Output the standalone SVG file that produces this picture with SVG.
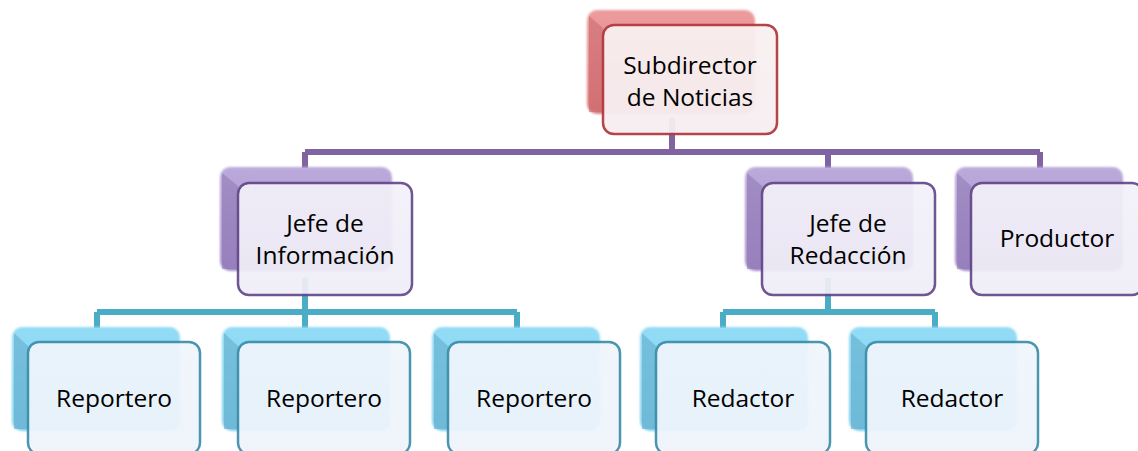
<svg xmlns="http://www.w3.org/2000/svg" width="1138" height="451" viewBox="0 0 1138 451">
<defs>
<linearGradient id="gRed" x1="0" y1="0" x2="0" y2="1"><stop offset="0" stop-color="#ec9c9d"/><stop offset="1" stop-color="#e07d80"/></linearGradient>
<linearGradient id="gPur" x1="0" y1="0" x2="0" y2="1"><stop offset="0" stop-color="#bcaadb"/><stop offset="1" stop-color="#a48dc9"/></linearGradient>
<linearGradient id="gCya" x1="0" y1="0" x2="0" y2="1"><stop offset="0" stop-color="#93dcf6"/><stop offset="1" stop-color="#7fcdec"/></linearGradient>
<linearGradient id="fRed" x1="0" y1="0" x2="0" y2="1"><stop offset="0" stop-color="#f8f0f1"/><stop offset="1" stop-color="#f6eef0"/></linearGradient>
<linearGradient id="fPur" x1="0" y1="0" x2="0" y2="1"><stop offset="0" stop-color="#f3f1f9"/><stop offset="1" stop-color="#efedf7"/></linearGradient>
<linearGradient id="fCya" x1="0" y1="0" x2="0" y2="1"><stop offset="0" stop-color="#f1f6fc"/><stop offset="1" stop-color="#eef4fb"/></linearGradient>
<filter id="soft" x="-5%" y="-5%" width="110%" height="110%"><feGaussianBlur stdDeviation="1"/></filter>
</defs>
<style>
.t{font-family:"Open Sans","Liberation Sans",sans-serif;font-size:24.5px;fill:#000;text-anchor:middle}
.bR{fill:url(#gRed)}
.bP{fill:url(#gPur)}
.bC{fill:url(#gCya)}
.sR{fill:#c46468;opacity:0.5}
.sP{fill:#8a72ad;opacity:0.5}
.sC{fill:#5fa9c6;opacity:0.55}
.fR{fill:url(#fRed);stroke:#b23b40;stroke-width:2.5;opacity:0.95}
.fP{fill:url(#fPur);stroke:#65498a;stroke-width:2.5;opacity:0.93}
.fC{fill:url(#fCya);stroke:#3d8eab;stroke-width:2.5;opacity:0.93}
.lP{fill:none;stroke:#8064a2;stroke-width:6}
.lC{fill:none;stroke:#4bacc6;stroke-width:6}
</style>
<g id="connectors">
<path class="lP" d="M672,118 V152 M305,152 H1040 M305,152 V168 M828,152 V168 M1040,152 V168"/>
<path class="lC" d="M305,278 V312 M97,312 H517 M97,312 V328 M305,312 V328 M517,312 V328"/>
<path class="lC" d="M828,278 V312 M723,312 H935 M723,312 V328 M935,312 V328"/>
</g>
<g id="n-subdirector">
<rect class="bR" x="587" y="10" width="168" height="104" rx="10" filter="url(#soft)"/>
<path class="sR" d="M589,16 L603,28 V112 H589 Z"/>
<rect class="fR" x="603" y="25" width="174" height="109" rx="11"/>
<text class="t" x="690" y="74">Subdirector</text>
<text class="t" x="690" y="106">de Noticias</text>
</g>
<g id="n-jefe-info">
<rect class="bP" x="220" y="167" width="172" height="104" rx="10" filter="url(#soft)"/>
<path class="sP" d="M222,173 L238,186 V269 H222 Z"/>
<rect class="fP" x="238" y="183" width="174" height="112" rx="11"/>
<text class="t" x="325" y="232">Jefe de</text>
<text class="t" x="325" y="264">Información</text>
</g>
<g id="n-jefe-red">
<rect class="bP" x="745" y="167" width="168" height="104" rx="10" filter="url(#soft)"/>
<path class="sP" d="M747,173 L762,186 V269 H747 Z"/>
<rect class="fP" x="762" y="183" width="173" height="112" rx="11"/>
<text class="t" x="848" y="232">Jefe de</text>
<text class="t" x="848" y="264">Redacción</text>
</g>
<g id="n-productor">
<rect class="bP" x="955" y="167" width="168" height="104" rx="10" filter="url(#soft)"/>
<path class="sP" d="M957,173 L971,186 V269 H957 Z"/>
<rect class="fP" x="971" y="183" width="172" height="112" rx="11"/>
<text class="t" x="1057" y="247">Productor</text>
</g>
<g id="n-rep1">
<rect class="bC" x="12" y="327" width="168" height="104" rx="10" filter="url(#soft)"/>
<path class="sC" d="M14,333 L28,346 V429 H14 Z"/>
<rect class="fC" x="28" y="342" width="172" height="112" rx="11"/>
<text class="t" x="114" y="407">Reportero</text>
</g>
<g id="n-rep2">
<rect class="bC" x="222" y="327" width="168" height="104" rx="10" filter="url(#soft)"/>
<path class="sC" d="M224,333 L238,346 V429 H224 Z"/>
<rect class="fC" x="238" y="342" width="172" height="112" rx="11"/>
<text class="t" x="324" y="407">Reportero</text>
</g>
<g id="n-rep3">
<rect class="bC" x="432" y="327" width="168" height="104" rx="10" filter="url(#soft)"/>
<path class="sC" d="M434,333 L448,346 V429 H434 Z"/>
<rect class="fC" x="448" y="342" width="172" height="112" rx="11"/>
<text class="t" x="534" y="407">Reportero</text>
</g>
<g id="n-red1">
<rect class="bC" x="640" y="327" width="168" height="104" rx="10" filter="url(#soft)"/>
<path class="sC" d="M642,333 L656,346 V429 H642 Z"/>
<rect class="fC" x="656" y="342" width="174" height="112" rx="11"/>
<text class="t" x="743" y="407">Redactor</text>
</g>
<g id="n-red2">
<rect class="bC" x="849" y="327" width="168" height="104" rx="10" filter="url(#soft)"/>
<path class="sC" d="M851,333 L866,346 V429 H851 Z"/>
<rect class="fC" x="866" y="342" width="172" height="112" rx="11"/>
<text class="t" x="952" y="407">Redactor</text>
</g>
</svg>
